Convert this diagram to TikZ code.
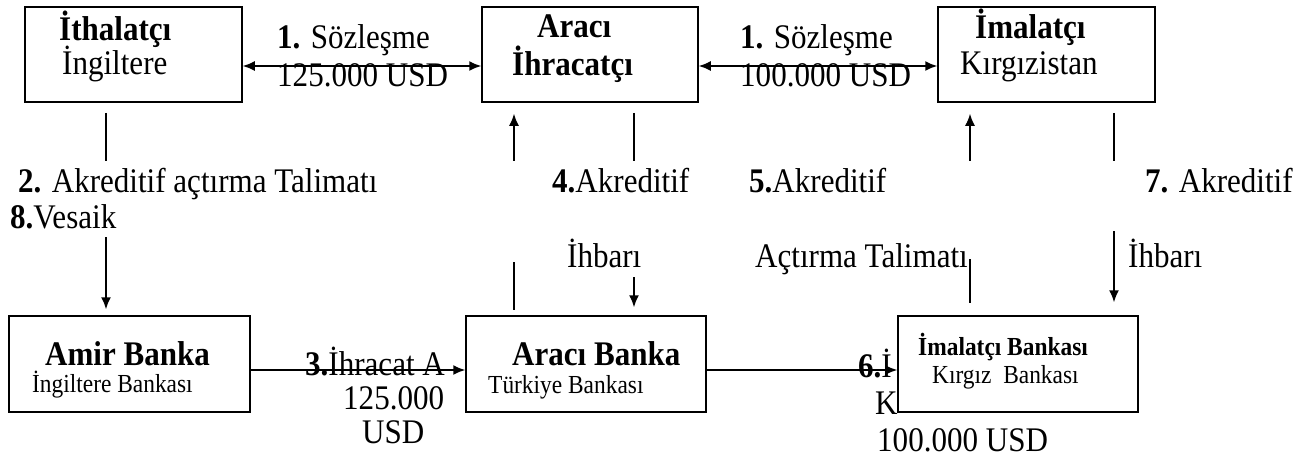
\documentclass[tikz,border=0pt]{standalone}
\usepackage{fontspec}
\setmainfont{Liberation Serif}[FakeStretch=0.9]
\usetikzlibrary{arrows.meta,calc}

\tikzset{
  kutu/.style={draw, fill=white, line width=1.5pt, inner sep=0pt},
  yazi/.style={anchor=base west, inner sep=0pt, font=\fontsize{34.5}{36}\selectfont},
  kucuk/.style={anchor=base west, inner sep=0pt, font=\fontsize{26}{28}\selectfont},
  cizgi/.style={line width=1.6pt},
  ok/.style={cizgi, -{Latex[length=12pt,width=10pt]}},
  ciftok/.style={cizgi, {Latex[length=12pt,width=10pt]}-{Latex[length=12pt,width=10pt]}}
}

\begin{document}
\begin{tikzpicture}[x=1pt, y=-1pt]
	\useasboundingbox (0,0) rectangle (1314,459);
	
	% Ust sira: firmalar
	\node[kutu, minimum width=217, minimum height=95] (ithalatci) at (133.5,54.5) {};
	\node[kutu, minimum width=216, minimum height=95] (araci) at (590,54.5) {};
	\node[kutu, minimum width=217, minimum height=95] (imalatci) at (1046.5,54.5) {};
	
	% Alt sira: bankalar
	\node[kutu, minimum width=241, minimum height=96] (amir) at (129.5,364) {};
	\node[kutu, minimum width=240, minimum height=96] (aracibanka) at (586,364) {};
	\node[kutu, minimum width=240, minimum height=96] (imalatcibanka) at (1018,364) {};
	
	% Kutu yazilari
	\node[yazi] (t1) at (59,40) {\textbf{İthalatçı}};
	\node[yazi] (t2) at (62,74) {İngiltere};
	\node[yazi] (t3) at (537,37) {\textbf{Aracı}};
	\node[yazi] (t4) at (512,75) {\textbf{İhracatçı}};
	\node[yazi] (t5) at (975,38) {\textbf{İmalatçı}};
	\node[yazi] (t6) at (960,74) {Kırgızistan};
	\node[yazi] (t7) at (45,365) {\textbf{Amir Banka}};
	\node[kucuk] (t8) at (32,392) {İngiltere Bankası};
	\node[yazi] (t9) at (512,365) {\textbf{Aracı Banka}};
	\node[kucuk] (t10) at (488,393) {Türkiye Bankası};
	\node[kucuk] (t11) at (918,355) {\textbf{İmalatçı Bankası}};
	\node[kucuk] (t12) at (932,383) {Kırgız~ Bankası};
	
	% Akis yazilari
	\node[yazi] (s1) at (277,48) {\textbf{1.} Sözleşme};
	\node[yazi] (s1b) at (277,86) {125.000 USD};
	\node[yazi] (s2) at (740,48) {\textbf{1.} Sözleşme};
	\node[yazi] (s2b) at (740,86) {100.000 USD};
	\node[yazi] (a2) at (18,192) {\textbf{2.} Akreditif açtırma Talimatı};
	\node[yazi] (a8) at (10,228) {\textbf{8.}Vesaik};
	\node[yazi] (a4) at (552,192) {\textbf{4.}Akreditif};
	\node[yazi] (a4b) at (567,267) {İhbarı};
	\node[yazi] (a5) at (749,192) {\textbf{5.}Akreditif};
	\node[yazi] (a5b) at (755,267) {Açtırma Talimatı};
	\node[yazi] (a7) at (1145,192) {\textbf{7.} Akreditif};
	\node[yazi] (a7b) at (1128,267) {İhbarı};
	\node[yazi] (a3) at (305,375) {\textbf{3.}İhracat A};
	\node[yazi] (a3b) at (343,409) {125.000};
	\node[yazi] (a3c) at (362,443) {USD};
	\node[yazi] (a6) at (858,377) {\textbf{6.}İ};
	\node[yazi] (a6b) at (875,414) {K};
	\node[yazi] (a6c) at (877,451) {100.000 USD};
	
	% Yatay oklar
	\draw[ciftok] ([yshift=-11.5pt]ithalatci.east) -- ([yshift=-11.5pt]araci.west);
	\draw[ciftok] ([yshift=-11.5pt]araci.east) -- ([yshift=-11.5pt]imalatci.west);
	\draw[ok] ([yshift=-6pt]amir.east) -- ([yshift=-6pt]aracibanka.west);
	\draw[ok] ([yshift=-6pt]aracibanka.east) -- ([yshift=-6pt]imalatcibanka.west);
	
	% Dikey oklar
	\draw[cizgi] ($(ithalatci.south)+(-27.5,10)$) -- +(0,48);
	\draw[ok] ($(amir.north)+(-23.5,-78)$) -- +(0,72);
	
	\draw[ok] ($(araci.south)+(-76,58)$) -- +(0,-47);
	\draw[cizgi] ($(araci.south)+(44,10)$) -- +(0,48);
	\draw[cizgi] ($(aracibanka.north)+(-72,-53)$) -- +(0,48);
	\draw[ok] ($(aracibanka.north)+(48,-38)$) -- +(0,30);
	
	\draw[ok] ($(imalatci.south)+(-76.5,58)$) -- +(0,-47);
	\draw[cizgi] ($(imalatci.south)+(67.5,10)$) -- +(0,48);
	\draw[ok] ($(imalatcibanka.north)+(96,-84)$) -- +(0,71);
	\draw[cizgi] ($(imalatcibanka.north)+(-48,-56)$) -- +(0,44);
\end{tikzpicture}
\end{document}
